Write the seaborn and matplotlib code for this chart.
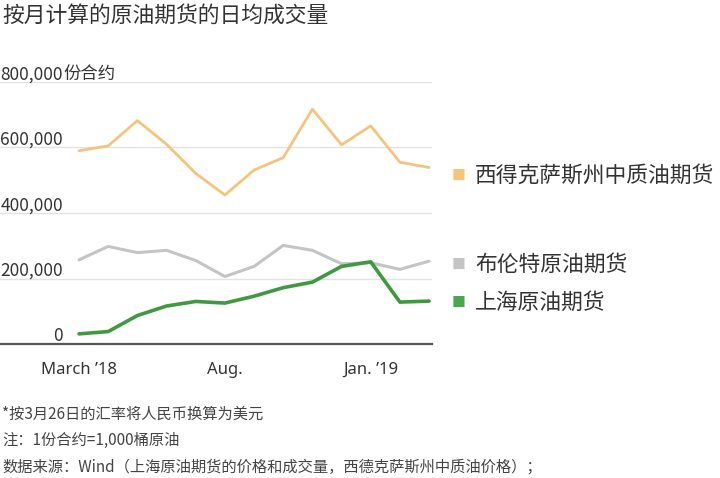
import matplotlib
matplotlib.use("Agg")
import matplotlib.pyplot as plt
import matplotlib.transforms as mtransforms
import pandas as pd
import seaborn as sns

# 数据 (按月, 2018年3月 - 2019年3月)
months = list(range(13))
wti = [590000, 605000, 682000, 610000, 521000, 455000, 531000,
       569000, 717000, 608000, 666000, 555000, 539000]
brent = [257000, 298000, 279000, 286000, 255000, 206000, 237000,
         301000, 286000, 245000, 248000, 228000, 253000]
shanghai = [31000, 38000, 87000, 116000, 130000, 125000, 146000,
            172000, 189000, 237000, 251000, 128000, 131000]

series_names = ["西得克萨斯州中质油期货", "布伦特原油期货", "上海原油期货"]
series_colors = ["#F5C47C", "#C4C4C4", "#3F9A3F"]
square_colors = ["#F7C27A", "#C4C4C4", "#4CA64C"]

ytick_values = [0, 200000, 400000, 600000, 800000]
ytick_labels = ["0", "200,000", "400,000", "600,000", "800,000"]
xtick_pos = [0, 5, 10]
xtick_labels = ["March \u201918", "Aug.", "Jan. \u201919"]

title = "按月计算的原油期货的日均成交量"
notes = ["*按3月26日的汇率将人民币换算为美元",
         "注：1份合约=1,000桶原油",
         "数据来源：Wind（上海原油期货的价格和成交量，西德克萨斯州中质油价格）；"]

sns.set_style("white")
plt.rcParams["font.family"] = ["Noto Sans CJK SC", "DejaVu Sans"]
narrow = ["Liberation Sans Narrow", "Noto Sans", "DejaVu Sans"]

df = pd.DataFrame({"month": months, series_names[0]: wti,
                   series_names[1]: brent, series_names[2]: shanghai})
long = df.melt(id_vars="month", var_name="series", value_name="volume")

fig = plt.figure(figsize=(7.2, 4.78), dpi=100)
ax = fig.add_axes([0.0, 0.2803, 0.6, 0.5482])

widths = [2.0, 2.2, 2.6]
for name, color, lw in zip(series_names, series_colors, widths):
    sns.lineplot(data=long[long["series"] == name], x="month", y="volume",
                 color=color, linewidth=lw, ax=ax, legend=False)

ax.set_xlim(-2.71, 12.1)
ax.set_ylim(0, 800000)
ax.set_xlabel("")
ax.set_ylabel("")
for s in ["top", "left", "right"]:
    ax.spines[s].set_visible(False)
ax.spines["bottom"].set_color("#555555")
ax.spines["bottom"].set_linewidth(1.6)

# 网格线
ax.set_yticks(ytick_values)
ax.set_yticklabels([])
ax.tick_params(axis="y", length=0)
ax.grid(axis="y", color="#E2E2E2", linewidth=1.0)
ax.set_axisbelow(True)

# 纵轴标签 (写在网格线上方)
trans = mtransforms.blended_transform_factory(ax.transAxes, ax.transData)
for v, lab in zip(ytick_values, ytick_labels):
    ax.annotate(lab, xy=(0.146, v), xycoords=trans, xytext=(0, -1),
                textcoords="offset points", ha="right", va="bottom",
                fontsize=12.5, color="#333333")
ax.annotate("份合约", xy=(0.146, 800000), xycoords=trans, xytext=(0, -1),
            textcoords="offset points", ha="left", va="bottom",
            fontsize=12.5, color="#333333")

# 横轴刻度
ax.set_xticks(xtick_pos)
ax.set_xticklabels(xtick_labels, fontsize=12, color="#333333",
                   fontfamily=narrow)
ax.set_xticks(months, minor=True)
ax.tick_params(axis="x", which="major", direction="out", length=8, width=1.3,
               color="#555555", pad=5)
ax.tick_params(axis="x", which="minor", direction="out", length=5, width=1.3,
               color="#555555")

# 右侧图例
last_vals = [wti[-1], brent[-1], shanghai[-1]]
y_shift = [-6, -3, -1]
for name, col, v, dy in zip(series_names, square_colors, last_vals, y_shift):
    ax.annotate("■", xy=(months[-1], v), xytext=(21, dy),
                textcoords="offset points", ha="center", va="center",
                fontsize=10, color=col, annotation_clip=False)
    ax.annotate(name, xy=(months[-1], v), xytext=(33, dy),
                textcoords="offset points", ha="left", va="center",
                fontsize=15.7, color="#333333", annotation_clip=False)

fig.text(0.003, 0.966, title, fontsize=15.7, color="#333333",
         ha="left", va="center")
for i, line in enumerate(notes):
    fig.text(0.003, 0.134 - i * 0.0555, line, fontsize=11, color="#444444",
             ha="left", va="center")

fig.savefig("out.png", dpi=100)
